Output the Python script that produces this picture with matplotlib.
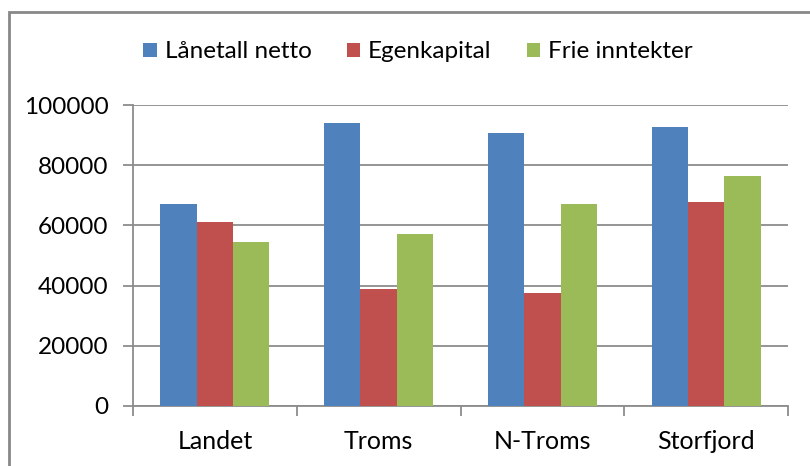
import numpy as np
import matplotlib.pyplot as plt
from matplotlib.patches import Rectangle

plt.rcParams['font.family'] = ['Lato', 'DejaVu Sans']

categories = ['Landet', 'Troms', 'N-Troms', 'Storfjord']
series_names = ['Lånetall netto', 'Egenkapital', 'Frie inntekter']
laanetall = [67000, 94100, 90700, 92800]
egenkapital = [61200, 38800, 37400, 67700]
frie = [54600, 57100, 67200, 76300]
colors = ['#4F81BD', '#C0504D', '#9BBB59']

fig = plt.figure(figsize=(8.1, 4.66), dpi=100)
ax = fig.add_axes([133 / 810, 60 / 466, 655 / 810, 301 / 466])

x = np.arange(len(categories))
w = 1 / 4.5
for i, (vals, name) in enumerate(zip([laanetall, egenkapital, frie], series_names)):
    ax.bar(x + (i - 1) * w, vals, w, color=colors[i], label=name, zorder=3)

ax.set_xlim(-0.5, 3.5)
ax.set_ylim(0, 100000)
ax.set_yticks(np.arange(0, 100001, 20000))
ax.yaxis.grid(True, color='#8c8c8c', linewidth=1.3, zorder=0)
ax.set_xticks(x)
ax.set_xticklabels(categories)
ax.set_xticks(np.arange(-0.5, 4, 1), minor=True)
ax.tick_params(axis='x', which='major', length=0, pad=17, labelsize=18)
ax.tick_params(axis='x', which='minor', length=7, width=1.3, color='#8c8c8c')
ax.tick_params(axis='y', length=7.5, width=1.3, color='#8c8c8c', labelsize=17.5, pad=10)
for s in ['top', 'right']:
    ax.spines[s].set_visible(False)
for s in ['left', 'bottom']:
    ax.spines[s].set_color('#8c8c8c')
    ax.spines[s].set_linewidth(1.3)

fig.legend(loc='center', bbox_to_anchor=(418 / 810, 1 - 52 / 466), ncol=3,
           frameon=False, fontsize=17.5, handlelength=0.55, handleheight=0.55,
           handletextpad=0.33, columnspacing=1.45, borderpad=0)

fig.patches.append(Rectangle((9 / 810, -0.1), 1.1, 1.1 - 12 / 466,
                             transform=fig.transFigure, fill=False,
                             edgecolor='#888888', linewidth=2))

fig.savefig('out.png')
